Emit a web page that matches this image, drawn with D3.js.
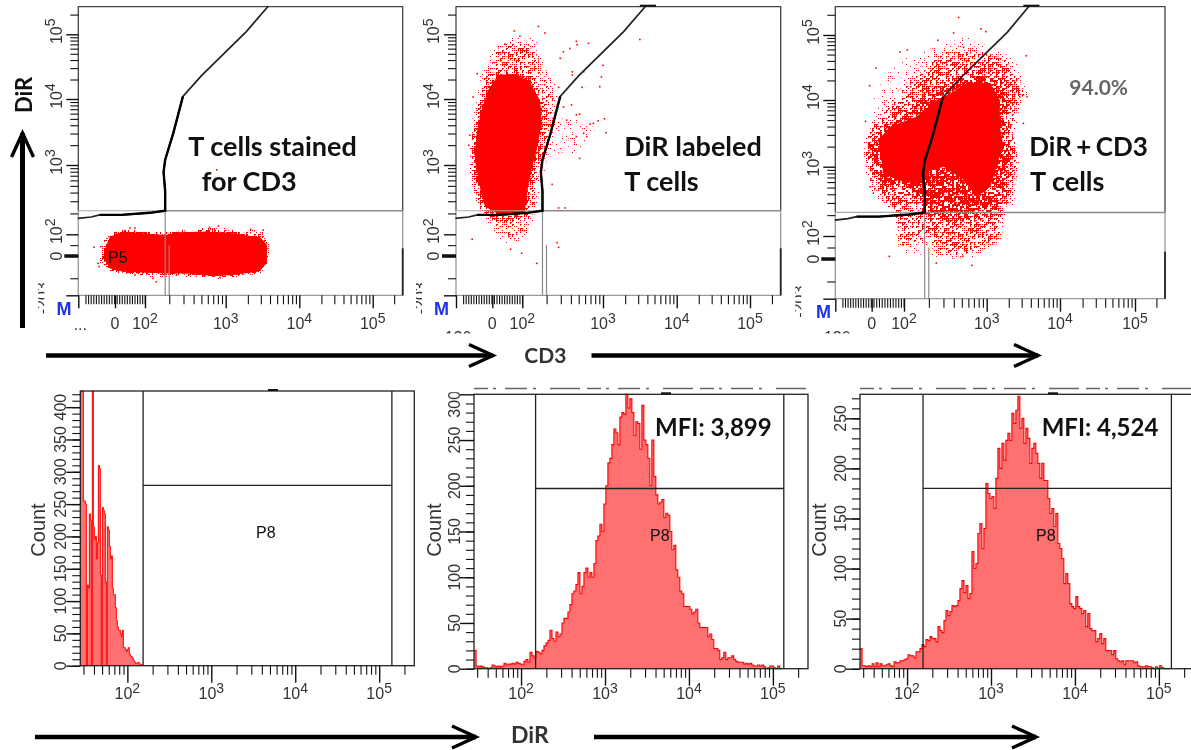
<!DOCTYPE html>
<html>
<head>
<meta charset="utf-8">
<script src="https://cdn.jsdelivr.net/npm/d3@7"></script>
<style>
  html, body { margin: 0; background: #fff; }
  svg { display: block; }
  .tick-label { font-family: "Liberation Sans Narrow", "Liberation Sans", sans-serif; font-size: 16px; fill: #333; }
  .gate-label { font-family: "Liberation Sans", sans-serif; font-size: 16px; fill: #111; }
  .note { font-family: Lato, sans-serif; font-weight: 700; font-size: 27px; fill: #111; }
</style>
</head>
<body>
<div id="my_dataviz"></div>
<script>
// scatter axes are in "biex units": u = log10(value) above 100, linear (0..2) below
var biexStops = [-2.4, 0, 2, 3, 4, 5, 5.42]
var dirStops = [-4.06, 0, 2, 3, 4, 5, 5.42]
var biexMajor = [-2.4, 0, 2, 3, 4, 5]
var dirMajor = [-4.06, 0, 2, 3, 4, 5]
var dirLowMinor = [1, -2.3]
var logSteps = [2, 3, 4, 5, 6, 7, 8, 9]

var gateLine = [[-2.44,2.23],[-1.56,2.25],[-1.0,2.28],[0.44,2.28],[2.06,2.31],[2.25,2.34],[2.25,2.62],[2.23,2.90],[2.25,3.08],[2.35,3.48],[2.47,4.04],[2.70,4.36],[3.28,5.04],[3.58,5.43]]

// density regions: solid core, dense halo, sparse halo, lone events
var cd3Core = [[-0.6,0.86],[-0.33,1.78],[0.56,2.04],[1.89,2.01],[2.25,1.94],[2.43,2.03],[2.76,2.04],[3.10,2.01],[3.47,1.72],[3.56,1.02],[3.56,-0.76],[3.44,-1.6],[3.10,-1.97],[2.85,-2.1],[2.6,-1.8],[2.31,-1.8],[2.02,-1.72],[0.56,-1.62],[-0.33,-1.28],[-0.73,-0.24]]
var cd3Dense = [[-1.11,0.71],[-0.56,2.01],[0.56,2.07],[2.19,2.04],[2.85,2.11],[3.51,2.06],[3.59,1.17],[3.58,-0.93],[3.47,-1.86],[2.89,-2.41],[2.52,-2.14],[2.14,-2.31],[1.22,-1.97],[-0.33,-1.62],[-1.0,-0.76]]
var cd3Events = [[-1.38,0.8],[-1.11,-0.76],[-1.04,-1.1],[1.33,-1.97],[2.14,-2.66],[2.10,-2.31],[2.89,2.93],[2.91,2.12],[2.80,2.10],[3.51,2.06],[3.34,2.07],[2.93,-2.2],[1.0,2.09],[1.33,2.09],[2.39,-1.97]]

var dirCore = [[0.4,4.37],[1.62,4.39],[2.10,4.24],[2.22,3.98],[2.24,3.63],[2.18,3.23],[2.12,2.97],[2.07,2.69],[2.03,2.30],[0.51,2.28],[-0.49,2.40],[-0.82,2.69],[-1.16,3.08],[-1.04,3.48],[-0.71,3.83],[-0.27,4.14]]
var dirDense = [[-0.16,4.68],[0.96,4.86],[2.10,4.81],[2.30,4.50],[2.47,4.09],[2.40,3.63],[2.32,3.13],[2.24,2.69],[2.18,2.33],[2.10,2.01],[1.62,0.86],[0.73,1.17],[-0.16,2.06],[-0.82,2.30],[-1.38,2.64],[-1.49,3.13],[-1.49,3.48],[-1.04,3.98],[-0.93,4.34]]
var dirSparse = [[2.38,3.78],[2.71,3.78],[3.0,3.73],[3.03,3.51],[2.80,3.28],[2.71,3.08],[2.47,3.08],[2.32,3.13]]
var dirSparseTop = [[-0.04,4.76],[1.4,5.04],[2.2,5.07],[2.28,4.86],[2.18,4.5],[0.4,4.6]]
var dirEvents = [[1.47,5.05],[2.2,5.12],[2.28,5.02],[2.67,4.89],[2.68,4.84],[2.82,4.86],[3.50,4.92],[2.51,4.73],[2.59,4.78],[1.84,4.97],[0.4,4.81],[0.84,4.85],[2.47,4.63],[3.0,4.52],[2.98,4.34],[2.96,4.19],[2.62,4.42],[2.62,4.37],[2.76,4.42],[2.74,4.18],[2.45,4.18],[-1.27,4.03],[-1.0,4.39],[-1.49,3.45],[-1.56,3.30],[2.37,2.72],[2.53,2.38],[2.45,2.38],[2.18,-0.76],[2.45,0.8],[2.43,1.23],[-1.33,1.54],[1.96,0.25],[1.22,0.62],[2.14,2.45],[2.84,3.62],[2.88,3.63],[2.94,3.67],[3.02,3.70],[3.04,3.49],[2.80,3.43],[2.76,3.48],[2.67,3.43],[2.71,3.10],[2.55,3.68],[2.67,3.76],[2.51,3.88],[2.61,3.91],[2.71,3.77]]

var bothSolid = [[0.41,3.40],[1.13,3.60],[2.15,3.75],[2.40,4.0],[2.56,4.10],[2.76,4.26],[3.05,4.26],[3.18,4.0],[3.18,3.60],[3.23,3.30],[3.16,3.10],[3.05,2.71],[2.88,2.57],[2.72,2.81],[2.48,3.0],[2.31,2.95],[2.23,2.76],[1.96,2.78],[0.72,2.90]]
var bothCore = [[0.21,3.40],[1.13,3.65],[2.07,3.75],[2.31,4.05],[2.52,4.15],[2.72,4.31],[3.0,4.36],[3.23,4.15],[3.25,3.80],[3.27,3.50],[3.32,3.25],[3.23,2.90],[3.23,2.62],[3.09,2.38],[2.80,2.28],[2.64,2.30],[2.31,2.33],[2.23,2.57],[2.03,2.66],[1.13,2.71],[0.41,2.81],[0.10,3.10],[-0.31,3.30]]
var bothDense = [[-0.41,3.43],[0.52,3.70],[1.34,4.0],[2.19,4.38],[2.40,4.67],[2.72,4.77],[2.96,4.69],[3.23,4.67],[3.45,4.21],[3.57,4.05],[3.41,3.95],[3.36,3.50],[3.45,3.10],[3.34,2.71],[3.39,2.47],[3.18,2.28],[3.23,1.8],[2.88,0.8],[2.60,0.23],[2.42,0.8],[2.31,2.04],[1.96,1.09],[1.55,2.13],[0.93,2.42],[-0.10,2.66],[-0.41,3.0]]
var bothSparse = [[-0.14,4.22],[1.75,4.74],[2.35,4.90],[2.60,5.03],[2.92,5.08],[3.09,4.87],[3.52,4.67],[3.57,4.05],[3.36,3.50],[3.45,3.10],[3.36,2.42],[3.14,1.09],[2.83,-0.49],[2.40,-0.34],[1.13,0.23],[1.63,2.23],[0.31,2.62],[-0.52,3.15]]
var bothEvents = [[2.66,5.26],[2.93,5.09],[2.99,5.05],[2.60,5.03],[2.72,4.81],[2.41,4.92],[2.04,4.77],[1.75,4.74],[0.27,4.49],[-0.14,4.22],[3.54,4.68],[3.55,4.05],[-0.41,3.68],[-0.10,2.71],[1.09,0.23],[2.39,-0.41],[2.82,-0.66],[2.71,0.23],[1.65,2.13],[1.96,1.23],[3.50,3.65],[3.41,4.31],[3.45,4.05],[3.50,4.08],[0.1,2.62]]

// histogram counts, one per bin
var unstainedCounts = [425,425,425,255,255,250,0,125,120,235,225,0,425,215,195,200,165,190,310,305,140,0,245,240,235,130,0,215,210,185,165,170,120,110,110,90,70,60,55,55,50,45,55,28,28,25,22,25,28,18,15,14,12,8,6,4,3,5,5,3,2,2,1]
var midCounts = [20,3,2,3,2,1,1,0,1,4,3,2,3,2,3,6,4,5,5,6,5,7,6,5,4,8,10,7,18,14,12,19,18,16,20,25,28,31,42,33,30,40,35,38,50,55,55,62,70,82,85,92,105,82,90,105,110,100,105,100,115,140,145,158,150,180,200,225,230,245,262,258,245,275,280,278,300,285,295,280,255,270,268,240,288,250,245,230,200,250,210,190,180,182,185,165,170,168,150,130,135,108,100,85,82,68,68,68,65,60,62,65,50,45,45,45,45,35,38,32,22,22,20,10,12,18,10,12,12,14,10,8,7,7,7,5,6,5,6,4,3,3,4,3,4,2,0,1,3,3,1,0,3,0,0]
var highCounts = [20,3,3,2,3,2,5,2,6,2,5,3,3,4,5,3,2,7,6,6,8,8,9,10,14,13,13,11,17,17,20,24,22,29,28,32,30,30,27,42,38,36,48,58,53,57,63,62,63,68,80,88,76,83,70,75,117,100,105,135,145,120,140,185,175,170,172,160,190,220,200,225,208,228,235,228,255,245,258,272,240,250,225,240,230,205,220,225,215,205,190,205,188,188,170,155,160,142,155,125,120,110,85,95,85,65,62,60,72,62,60,55,58,42,55,40,38,38,27,30,35,25,30,18,18,18,14,18,10,8,7,8,4,8,8,8,8,6,7,3,2,2,2,3,2,2,1,0,2,0,3,1,0,0,0,0]

var histMajor = [100, 1000, 10000, 100000]
var firstBinLog = 1.44

var svg = d3.select("#my_dataviz").append("svg")
    .attr("width", 1191)
    .attr("height", 750)

var defs = svg.append("defs")
function fullFilter(id) {
    return defs.append("filter").attr("id", id).attr("filterUnits", "userSpaceOnUse")
        .attr("x", 0).attr("y", 0).attr("width", 1191).attr("height", 750)
        .attr("color-interpolation-filters", "sRGB")
}
fullFilter("soft").append("feGaussianBlur").attr("stdDeviation", 0.45)
fullFilter("halo-blur-1").append("feGaussianBlur").attr("stdDeviation", 1.5)
fullFilter("halo-blur-4").append("feGaussianBlur").attr("stdDeviation", 4.5)

// a dither tile: where the blurred density mask is weak only the strong cells survive the threshold
var tile = defs.append("pattern").attr("id", "dither")
    .attr("patternUnits", "userSpaceOnUse").attr("width", 90).attr("height", 90)
for (var ci = 0; ci < 45; ci++) {
    for (var cj = 0; cj < 45; cj++) {
        var h = Math.sin(ci * 12.9898 + cj * 78.233) * 43758.5453
        tile.append("rect").attr("x", ci * 2).attr("y", cj * 2).attr("width", 1.6).attr("height", 1.6)
            .attr("fill", "#f00").attr("fill-opacity", h - Math.floor(h))
    }
}
var thresh = fullFilter("threshold").append("feComponentTransfer")
thresh.append("feFuncA").attr("type", "linear").attr("slope", 40).attr("intercept", -40 * 0.16)

var root = svg.append("g").attr("filter", "url(#soft)")

function superLabel(g, x, y, exp, rotated, cls) {
    var t = g.append("text").attr("class", cls || "tick-label")
        .attr("text-anchor", "middle")
        .attr("transform", "translate(" + x + "," + y + ")" + (rotated ? " rotate(-90)" : ""))
    t.append("tspan").text("10")
    t.append("tspan").attr("dy", "-0.45em").style("font-size", "14px").text(exp)
}

function logMinors(from, to) {
    var out = []
    for (var d = from; d <= to; d++) logSteps.forEach(function(s) { out.push(d + Math.log10(s)) })
    return out
}

function tickGroup(g, axis, width) {
    g.call(axis)
    g.select(".domain").remove()
    g.selectAll("line").attr("stroke", "#111").attr("stroke-width", width)
}

var scatterPanels = [
    { xr: [78.3,115,145,225.7,299.3,372.7,402.7], yr: [295.3,256,234.3,165,99,34.3,6.7], solid: cd3Core, core: cd3Core, dense: cd3Dense, sparse: [], events: cd3Events, blur: 1, mx: 56.5, my: 315, clip: "..." },
    { xr: [456,492.3,522.3,603,676.7,750,780.7], yr: [295.3,256,234.3,165,99,34.3,6.7], solid: dirCore, core: dirCore, dense: dirDense, sparse: [dirSparse, dirSparseTop], events: dirEvents, blur: 4, mx: 434, my: 315, clip: "120" },
    { xr: [835.3,871.7,904,986.7,1060,1135,1165], yr: [298.7,259,236,166.7,100,35,6.7], solid: bothSolid, core: bothCore, dense: bothDense, sparse: [bothSparse], events: bothEvents, blur: 4, mx: 816, my: 318, clip: "120" }
]

scatterPanels.forEach(function(p, i) {
    var xs = d3.scaleLinear().domain(biexStops).range(p.xr)
    var ys = d3.scaleLinear().domain(dirStops).range(p.yr)
    var g = root.append("g")
    var left = p.xr[0], right = p.xr[6], top = p.yr[6], bottom = p.yr[0]
    var line = d3.line().x(function(d) { return xs(d[0]) }).y(function(d) { return ys(d[1]) })

    // density regions become a blurred mask over the dither tile
    var mask = defs.append("mask").attr("id", "density" + i).attr("maskUnits", "userSpaceOnUse")
        .attr("x", 0).attr("y", 0).attr("width", 1191).attr("height", 750)
        .append("g").attr("filter", "url(#halo-blur-" + p.blur + ")")
    p.sparse.forEach(function(poly) {
        mask.append("path").attr("d", line(poly) + "Z").attr("fill", "#fff").attr("fill-opacity", 0.2)
    })
    mask.append("path").attr("d", line(p.dense) + "Z").attr("fill", "#fff").attr("fill-opacity", 0.33)
    mask.append("path").attr("d", line(p.core) + "Z").attr("fill", "#fff")
    g.append("g").attr("filter", "url(#threshold)").append("rect")
        .attr("x", left).attr("y", top).attr("width", right - left).attr("height", bottom - top)
        .attr("fill", "url(#dither)").attr("mask", "url(#density" + i + ")")
    g.append("path").attr("d", line(p.solid) + "Z").attr("fill", "#f00")
    g.selectAll(".event").data(p.events).enter().append("rect")
        .attr("class", "event")
        .attr("x", function(d) { return xs(d[0]) - 0.8 })
        .attr("y", function(d) { return ys(d[1]) - 0.8 })
        .attr("width", 1.6).attr("height", 1.6)
        .attr("fill", "#f00")

    // frame: dark above the quadrant line, grey below it
    var hLine = ys(2.34)
    g.append("path").attr("fill", "none").attr("stroke", "#444").attr("stroke-width", 1.3)
        .attr("d", "M" + left + "," + hLine + "V" + top + "H" + right + "V" + hLine)
    g.append("path").attr("fill", "none").attr("stroke", "#999").attr("stroke-width", 1.3)
        .attr("d", "M" + left + "," + hLine + "V" + bottom + "H" + right + "V" + hLine)
    g.append("line").attr("x1", right).attr("x2", right).attr("y1", bottom - 47).attr("y2", bottom)
        .attr("stroke", "#222").attr("stroke-width", 1.8)

    // quadrant lines
    g.append("line").attr("x1", xs(2.25)).attr("x2", right).attr("y1", hLine).attr("y2", hLine)
        .attr("stroke", "#8a8a8a").attr("stroke-width", 1.4)
    g.append("line").attr("x1", left).attr("x2", xs(2.25)).attr("y1", hLine).attr("y2", hLine)
        .attr("stroke", "#aaa").attr("stroke-width", 1.2)
    g.append("path").attr("fill", "none").attr("stroke", "#8a8a8a").attr("stroke-width", 1.2)
        .attr("d", "M" + xs(2.25) + "," + hLine + "V" + bottom + "M" + xs(2.3) + "," + ys(1) + "V" + bottom)

    // gate polygon edge, heavier on its lower part
    g.append("path").attr("fill", "none").attr("stroke", "#222").attr("stroke-width", 1.7).attr("d", line(gateLine))
    g.append("path").attr("fill", "none").attr("stroke", "#000").attr("stroke-width", 2.4).attr("d", line(gateLine.slice(2, 11)))
    if (i > 0) {
        g.append("line").attr("x1", xs(3.5)).attr("x2", xs(3.72)).attr("y1", top - 1).attr("y2", top - 1)
            .attr("stroke", "#111").attr("stroke-width", 2)
    }

    // axes
    var xMinor = d3.range(-1.93, 2, 0.17).concat(logMinors(2, 4)).concat([5.3])
    tickGroup(g.append("g").attr("transform", "translate(0," + bottom + ")"),
        d3.axisBottom(xs).tickValues(xMinor).tickSize(9).tickFormat(""), 1.1)
    tickGroup(g.append("g").attr("transform", "translate(0," + bottom + ")"),
        d3.axisBottom(xs).tickValues(biexMajor).tickSize(13).tickFormat(""), 1.4)
    var yMinor = dirLowMinor.concat(logMinors(2, 4)).concat([5.3])
    tickGroup(g.append("g").attr("transform", "translate(" + left + ",0)"),
        d3.axisLeft(ys).tickValues(yMinor).tickSize(8).tickFormat(""), 1.1)
    tickGroup(g.append("g").attr("transform", "translate(" + left + ",0)"),
        d3.axisLeft(ys).tickValues(dirMajor).tickSize(12).tickFormat(""), 1.4)
    g.append("line").attr("x1", left - 14).attr("x2", left).attr("y1", ys(0)).attr("y2", ys(0))
        .attr("stroke", "#111").attr("stroke-width", 3.5)

    // tick labels
    biexMajor.slice(2).forEach(function(u) { superLabel(g, xs(u), 329, u) })
    g.append("text").attr("class", "tick-label").attr("text-anchor", "middle").attr("x", xs(0)).attr("y", 329).text("0")
    dirMajor.slice(2).forEach(function(u) { superLabel(g, left - 16.6, ys(u) - 3, u, true) })
    g.append("text").attr("class", "tick-label").attr("text-anchor", "middle")
        .attr("transform", "translate(" + (left - 16.6) + "," + ys(0) + ") rotate(-90)").text("0")

    // labels cut off in the export
    defs.append("clipPath").attr("id", "cut-y" + i).append("rect").attr("x", left - 40).attr("y", 270).attr("width", 6).attr("height", 60)
    g.append("g").attr("clip-path", "url(#cut-y" + i + ")").append("text").attr("class", "tick-label").attr("text-anchor", "middle")
        .attr("transform", "translate(" + (left - 30) + "," + (bottom + 3) + ") rotate(-90)").text("-203")
    defs.append("clipPath").attr("id", "cut-x" + i).append("rect").attr("x", left - 20).attr("y", 320).attr("width", 60).attr("height", 13.5)
    g.append("g").attr("clip-path", "url(#cut-x" + i + ")").append("text").attr("class", "tick-label").attr("text-anchor", "middle")
        .attr("x", left + 2).attr("y", p.clip == "..." ? 330 : 343).text(p.clip)

    g.append("text").attr("x", p.mx).attr("y", p.my)
        .style("font-family", "'Liberation Sans', sans-serif").style("font-weight", 700).style("font-size", "18px")
        .attr("fill", "#1f30e8").text("M")
})

var histPanels = [
    { left: 80.3, top: 391, bottom: 665.7, maxCount: 425, counts: unstainedCounts, binStep: 0.0119, lineWidth: 1, gate: [154, 141700], level: 279, labels: [0,50,100,150,200,250,300,350,400], countX: 45, stub: 273, strip: false },
    { left: 474, top: 394.3, bottom: 668.7, maxCount: 300, counts: midCounts, binStep: 0.0238, lineWidth: 1.1, gate: [149, 135000], level: 197, labels: [0,50,100,150,200,250,300], countX: 441, stub: 666, strip: true },
    { left: 860, top: 394.3, bottom: 668.7, maxCount: 274, counts: highCounts, binStep: 0.0238, lineWidth: 1.1, gate: [155, 141000], level: 180, labels: [0,50,100,150,200,250], countX: 826, stub: 1053, strip: true }
]

histPanels.forEach(function(p, i) {
    var xs = d3.scaleLog().domain([27.5, 262144]).range([p.left, p.left + 334])
    var ys = d3.scaleLinear().domain([0, p.maxCount]).range([p.bottom, p.top])
    var g = root.append("g")
    var right = p.left + 334

    var bins = p.counts.map(function(c, k) { return { dir: Math.pow(10, firstBinLog + k * p.binStep), count: c } })
    g.append("path").datum(bins).attr("fill", "#ff7070").attr("d", d3.area().curve(d3.curveStepAfter)
        .x(function(d) { return xs(d.dir) }).y0(p.bottom).y1(function(d) { return ys(d.count) }))
    g.append("path").datum(bins).attr("fill", "none").attr("stroke", "#f00").attr("stroke-width", p.lineWidth)
        .attr("d", d3.line().curve(d3.curveStepAfter).x(function(d) { return xs(d.dir) }).y(function(d) { return ys(d.count) }))

    g.append("rect").attr("x", p.left).attr("y", p.top).attr("width", 334).attr("height", p.bottom - p.top)
        .attr("fill", "none").attr("stroke", "#222").attr("stroke-width", 1.3)
    g.append("line").attr("x1", p.stub - 5).attr("x2", p.stub + 5).attr("y1", p.top - 1).attr("y2", p.top - 1)
        .attr("stroke", "#111").attr("stroke-width", 2)

    // P8 gate
    g.append("path").attr("fill", "none").attr("stroke", "#222").attr("stroke-width", 1.3)
        .attr("d", "M" + xs(p.gate[0]) + "," + p.top + "V" + p.bottom
            + "M" + xs(p.gate[1]) + "," + p.top + "V" + p.bottom
            + "M" + xs(p.gate[0]) + "," + ys(p.level) + "H" + xs(p.gate[1]))

    // axes
    var minors = []
    for (var d = 10; d <= 100000; d *= 10) logSteps.forEach(function(s) { if (s * d > 27.5 && s * d < 262144) minors.push(s * d) })
    tickGroup(g.append("g").attr("transform", "translate(0," + p.bottom + ")"),
        d3.axisBottom(xs).tickValues(minors).tickSize(9).tickFormat(""), 1.1)
    tickGroup(g.append("g").attr("transform", "translate(0," + p.bottom + ")"),
        d3.axisBottom(xs).tickValues(histMajor).tickSize(17).tickFormat(""), 1.4)
    var yMin = d3.range(0, p.maxCount, 10)
    tickGroup(g.append("g").attr("transform", "translate(" + p.left + ",0)"),
        d3.axisLeft(ys).tickValues(yMin).tickSize(8).tickFormat(""), 1.1)
    tickGroup(g.append("g").attr("transform", "translate(" + p.left + ",0)"),
        d3.axisLeft(ys).tickValues(p.labels).tickSize(14).tickFormat(""), 1.4)

    histMajor.forEach(function(v, k) { superLabel(g, xs(v), 699, k + 2) })

    defs.append("clipPath").attr("id", "cut-h" + i).append("rect").attr("x", p.left - 30).attr("y", p.top - 2).attr("width", 30).attr("height", 300)
    var lab = g.append("g").attr("clip-path", "url(#cut-h" + i + ")")
    p.labels.forEach(function(c) {
        var y = ys(c)
        if (y - p.top < 12) y = p.top + 10
        lab.append("text").attr("class", "tick-label").attr("text-anchor", "middle")
            .attr("transform", "translate(" + (p.left - 14) + "," + y + ") rotate(-90)").text(c)
    })
    g.append("text").attr("text-anchor", "middle")
        .style("font-family", "'Liberation Sans', sans-serif").style("font-size", "20px").attr("fill", "#333")
        .attr("transform", "translate(" + p.countX + ",530) rotate(-90)").text("Count")

    // top title of the export, cut off to a row of specks
    if (p.strip) {
        g.append("line").attr("x1", p.left).attr("x2", Math.min(right, 1191)).attr("y1", 388.5).attr("y2", 388.5)
            .attr("stroke", "#666").attr("stroke-width", 1.4).attr("stroke-dasharray", "14 5 3 9 22 6 3 14 30 7")
    }
})

// gate names
var gateNames = [["P5", 108, 263], ["P8", 256, 537.7], ["P8", 650, 540.7], ["P8", 1036, 540.7]]
gateNames.forEach(function(n) {
    root.append("text").attr("class", "gate-label").attr("x", n[1]).attr("y", n[2]).text(n[0])
})

// annotations
var notes = [["T cells stained", 188.3, 155.7, 27], ["for CD3", 201.7, 190.7, 27], ["DiR labeled", 624.3, 155.7, 27], ["T cells", 624.3, 190.7, 27],
    ["DiR + CD3", 1029.3, 155.7, 26], ["T cells", 1030, 190.7, 27], ["MFI: 3,899", 655, 435.7, 24], ["MFI: 4,524", 1041.7, 435.7, 24]]
notes.forEach(function(n) {
    root.append("text").attr("class", "note").attr("x", n[1]).attr("y", n[2]).style("font-size", n[3] + "px")
        .style("word-spacing", n[0].indexOf("+") > 0 ? "-2px" : "0").text(n[0])
})
root.append("text").attr("x", 1069.3).attr("y", 95).style("font-family", "Lato, sans-serif").style("font-weight", 700)
    .style("font-size", "21px").attr("fill", "#666").text("94.0%")
root.append("text").attr("class", "note").attr("x", 524.3).attr("y", 363.3).style("fill", "#333").style("font-size", "21px").text("CD3")
root.append("text").attr("class", "note").attr("x", 511).attr("y", 743).style("fill", "#333").style("font-size", "23px").text("DiR")
root.append("text").attr("class", "note").attr("transform", "translate(32,113) rotate(-90)").style("font-size", "22px").text("DiR")

// big arrows
function arrow(x1, y1, x2, y2, headLen, headHalf, width) {
    root.append("line").attr("x1", x1).attr("y1", y1).attr("x2", x2).attr("y2", y2)
        .attr("stroke", "#000").attr("stroke-width", width)
    var dirx = Math.sign(x2 - x1), diry = Math.sign(y2 - y1)
    var p = d3.path()
    p.moveTo(x2 - dirx * headLen - (diry ? headHalf : 0), y2 - diry * headLen - (dirx ? headHalf : 0))
    p.lineTo(x2, y2)
    p.lineTo(x2 - dirx * headLen + (diry ? headHalf : 0), y2 - diry * headLen + (dirx ? headHalf : 0))
    root.append("path").attr("d", p.toString()).attr("fill", "none").attr("stroke", "#000").attr("stroke-width", 3.4)
}
var arrows = [[22.5, 328, 22.5, 133], [46, 355.5, 493, 355.5], [591.5, 355.5, 1038, 355.5], [35, 737, 476, 737], [594, 737, 1036, 737]]
arrows.forEach(function(a) { arrow(a[0], a[1], a[2], a[3], 24, 11, a[0] == a[2] ? 5 : 4.5) })
</script>
</body>
</html>
